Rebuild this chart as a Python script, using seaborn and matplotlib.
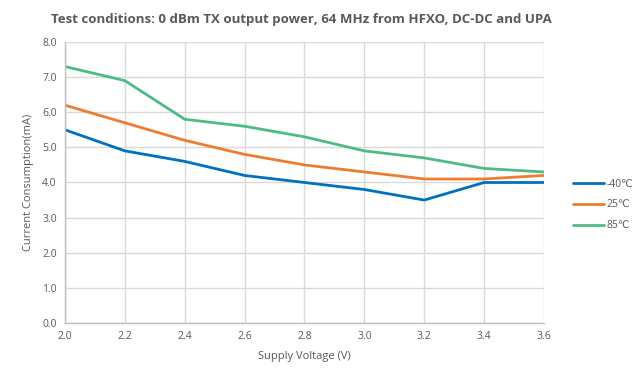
import matplotlib
matplotlib.use("Agg")
import matplotlib.pyplot as plt
import seaborn as sns
import pandas as pd

voltage = [2.0, 2.2, 2.4, 2.6, 2.8, 3.0, 3.2, 3.4, 3.6]
cur_m40 = [5.5, 4.9, 4.6, 4.2, 4.0, 3.8, 3.5, 4.0, 4.0]
cur_25 = [6.2, 5.7, 5.2, 4.8, 4.5, 4.3, 4.1, 4.1, 4.2]
cur_85 = [7.3, 6.9, 5.8, 5.6, 5.3, 4.9, 4.7, 4.4, 4.3]
series_names = ["-40℃", "25℃", "85℃"]
colors = ["#0070C0", "#ED7D31", "#4DBB87"]

df = pd.concat([
    pd.DataFrame({"V": voltage, "I": vals, "T": name})
    for name, vals in zip(series_names, [cur_m40, cur_25, cur_85])
])

sns.set_theme(style="white")
plt.rcParams['font.family'] = ['Open Sans', 'DejaVu Sans']

fig = plt.figure(figsize=(6.39, 3.80), dpi=100)
ax = fig.add_axes([0.1017, 0.15, 0.7496, 0.7395])
sns.lineplot(data=df, x="V", y="I", hue="T", palette=colors, linewidth=2, ax=ax)

ax.set_xlim(2.0, 3.6)
ax.set_ylim(0, 8)
ax.set_xticks(voltage)
ax.set_yticks([0, 1, 2, 3, 4, 5, 6, 7, 8])
ax.xaxis.set_major_formatter(matplotlib.ticker.FormatStrFormatter('%.1f'))
ax.yaxis.set_major_formatter(matplotlib.ticker.FormatStrFormatter('%.1f'))
ax.grid(True, color="#D9D9D9", linewidth=1)
ax.set_axisbelow(True)
for s in ["top", "right"]:
    ax.spines[s].set_visible(False)
for s in ["left", "bottom"]:
    ax.spines[s].set_color("#BFBFBF")
    ax.spines[s].set_linewidth(1)
ax.tick_params(axis="both", length=0, labelsize=7.5, colors="#595959", pad=6)
ax.set_xlabel("Supply Voltage (V)", fontsize=8, color="#595959", labelpad=6)
ax.set_ylabel("Current Consumption(mA)", fontsize=8, color="#595959", labelpad=6)
fig.suptitle("Test conditions: 0 dBm TX output power, 64 MHz from HFXO, DC-DC and UPA",
             x=0.472, y=0.965, fontsize=9.5, fontweight="bold", color="#595959")
leg = ax.legend(title=None, loc="center left", bbox_to_anchor=(1.04, 0.42), frameon=False,
                fontsize=7.5, handlelength=3.0, handletextpad=0.25, labelspacing=0.95)
for t in leg.get_texts():
    t.set_color("#595959")

fig.savefig("out.png", dpi=100)
